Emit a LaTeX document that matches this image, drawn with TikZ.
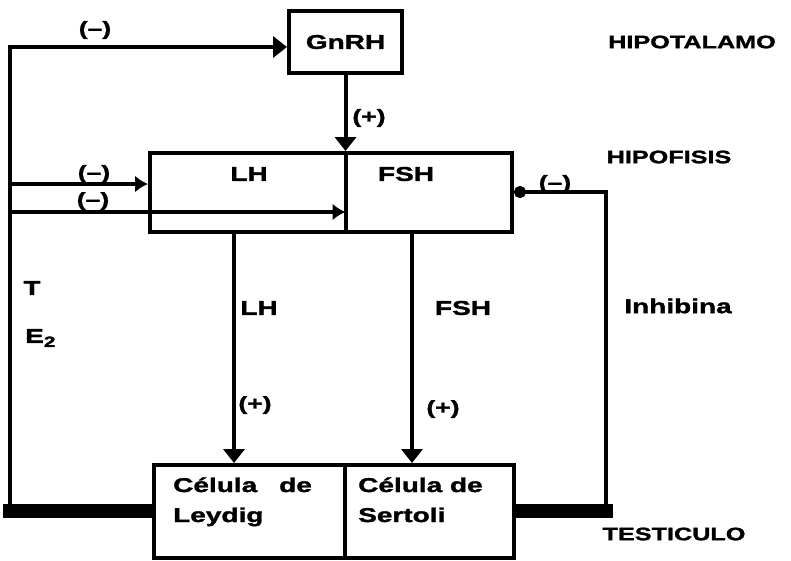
\documentclass[tikz,border=0pt]{standalone}
\usepackage{fontspec}
\setmainfont{Liberation Sans}[FakeStretch=1.4,BoldFeatures={FakeBold=1.6}]
\usetikzlibrary{arrows.meta,calc}
\begin{document}
\begin{tikzpicture}[x=1pt,y=-1pt,
  ln/.style={line width=4pt},
  box/.style={draw,line width=4pt,rectangle,inner sep=0pt,anchor=north west},
  arr/.style={ln,-{Triangle[length=14pt,width=21pt]}},
  marr/.style={ln,-{Latex[length=13pt,width=17pt]}},
  darr/.style={ln,-{Circle[length=12pt]}},
  thk/.style={line width=14pt},
  lbl/.style={font=\bfseries\fontsize{19}{21}\selectfont,inner sep=0pt},
  hlbl/.style={font=\bfseries\fontsize{18}{20}\selectfont,inner sep=0pt},
  big/.style={font=\bfseries\fontsize{20}{22}\selectfont,inner sep=0pt},
  blbl/.style={font=\bfseries\fontsize{20}{22}\selectfont,inner sep=0pt,anchor=base west},
]
\useasboundingbox (0,0) rectangle (791,560);
% boxes
\node[box,minimum width=113pt,minimum height=62pt,font=\bfseries\fontsize{20}{22}\selectfont] (gnrh) at (287,9) {GnRH};
\node[box,minimum width=362pt,minimum height=79pt] (hip) at (148,151) {};
\node[box,minimum width=360pt,minimum height=93pt] (test) at (152,463) {};
% dividers
\draw[ln] (gnrh.south |- hip.north) -- (gnrh.south |- hip.south);
\coordinate (tdiv) at (345,0);
\draw[ln] (tdiv |- test.north) -- (tdiv |- test.south);
% GnRH -> hipofisis
\draw[arr] (gnrh.south) -- (gnrh.south |- hip.north);
% left feedback loop
\coordinate (lb0) at (3,511);
\coordinate (lb) at (10,511);
\coordinate (lt) at (10,47);
\draw[arr] (lb) -- (lt) -- (lt -| gnrh.west);
\draw[thk] (lb0) -- (lb0 -| test.west);
\coordinate (a1) at (10,184);
\coordinate (a2) at (10,212);
\draw[marr] (a1) -- (a1 -| hip.west);
\draw[marr] (a2) -- (a2 -| gnrh.south);
% right feedback loop (inhibina)
\coordinate (rb) at (606,511);
\coordinate (rb0) at (613,511);
\coordinate (rt) at (606,192);
\draw[darr] (rb) -- (rt) -- (rt -| hip.east);
\draw[thk] (test.east |- rb) -- (rb0);
% LH / FSH arrows
\coordinate (lhx) at (234,0);
\coordinate (fshx) at (412,0);
\draw[arr] (lhx |- hip.south) -- (lhx |- test.north);
\draw[arr] (fshx |- hip.south) -- (fshx |- test.north);
% labels
\node[lbl] (m1) at (95,30) {(–)};
\node[lbl] (p1) at (369,118) {(+)};
\node[lbl] (m2) at (94,174) {(–)};
\node[lbl] (m3) at (93,201) {(–)};
\node[lbl] (m4) at (555,184) {(–)};
\node[big] (lhin) at (249,174) {LH};
\node[big] (fshin) at (406,174) {FSH};
\node[hlbl] (hipo) at (692,42) {HIPOTALAMO};
\node[hlbl] (hipf) at (669,157) {HIPOFISIS};
\node[hlbl] (tes) at (674,534) {TESTICULO};
\node[big] (tt) at (32,288) {T};
\node[big,anchor=west] (e2) at (25,338) {E\raisebox{-4pt}{\fontsize{15}{15}\selectfont 2}};
\node[big] (lhl) at (259,308) {LH};
\node[big] (fshl) at (463,308) {FSH};
\node[big] (inh) at (678,306) {Inhibina};
\node[lbl] (p2) at (255,405) {(+)};
\node[lbl] (p3) at (443,409) {(+)};
\node[blbl] (c1) at (173,492) {Célula\hspace{22pt}de};
\node[blbl] (c2) at (173,522) {Leydig};
\node[blbl] (c3) at (358,492) {Célula de};
\node[blbl] (c4) at (358,522) {Sertoli};
\end{tikzpicture}
\end{document}
